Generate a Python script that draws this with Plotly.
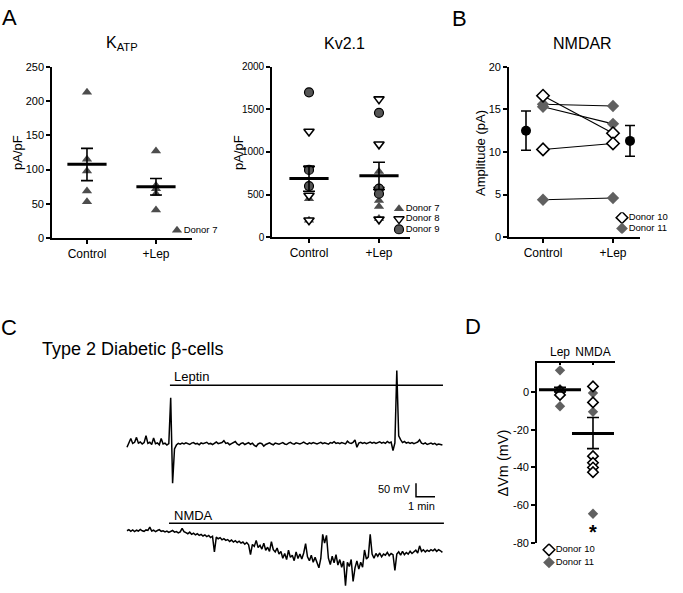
import plotly.graph_objects as go

W, H = 683, 593
FONT = "Liberation Sans, Arial, sans-serif"

# ---------------- data ----------------
CATS_A = ["Control", "+Lep"]

KATP_CONTROL_D7 = [213, 115, 98, 69, 53]
KATP_LEP_D7 = [127, 77, 72, 65, 41]
KATP_MEAN = [108, 75]
KATP_SEM_HI = [131, 87]
KATP_SEM_LO = [84, 63]

KV_CONTROL_D7 = [450, 200]
KV_CONTROL_D8 = [1240, 810, 490, 200]
KV_CONTROL_D9 = [1700, 790, 600]
KV_LEP_D7 = [770, 430, 360, 220]
KV_LEP_D8 = [1620, 1090, 560, 210]
KV_LEP_D9 = [1460, 570, 510]
KV_MEAN = [690, 720]
KV_SEM_HI = [830, 880]
KV_SEM_LO = [540, 560]

NMDAR_D10_CONTROL = [16.6, 10.3]
NMDAR_D10_LEP = [12.2, 11.0]
NMDAR_D11_CONTROL = [15.6, 15.3, 4.4]
NMDAR_D11_LEP = [15.4, 13.3, 4.6]
NMDAR_MEAN = [12.5, 11.3]
NMDAR_SEM_HI = [14.8, 13.1]
NMDAR_SEM_LO = [10.2, 9.5]

D_CATS = ["Lep", "NMDA"]
D_LEP_D10 = [0.5, -1.5]
D_LEP_D11 = [11.5, 1.5, -1.0, -7.5]
D_NMDA_D10 = [3, -5.5, -34, -37.5, -40, -42.5]
D_NMDA_D11 = [3, -0.5, -10.5, -64.5]
D_MEAN = [1.2, -22]
D_SEM_HI = [2.5, -13.5]
D_SEM_LO = [0.0, -30]
D_TICKS = [0, -20, -40, -60, -80]

# membrane potential recordings (mV, relative to start), sampled every 0.1 min
TRACE_DT_MIN = 0.1
LEPTIN_TRACE_MV = [
    -12, 4, 20, 2, 6, 24, 3, 7, 0, 5, 30,
    2, 6, -2, 22, 1, 4, -3, 20, 0, 3,
    -4, 1, 168, -143, -18, -4, 2, -1, 3, 0,
    4, 1, -2, 3, 5, 0, 2, -3, 4, 1,
    3, 6, 0, 2, -2, 4, 7, 1, 3, 5,
    12, 2, 4, -3, 1, 5, 9, 0, -4, 2,
    4, -2, 1, 5, -1, 3, -5, -9, 0, 3,
    1, -8, -2, 2, 4, 0, -3, 3, 1, -1,
    2, 5, 0, -2, 3, 6, 1, -1, 4, 2,
    0, 3, 7, 2, -1, 4, 1, 5, 2, 0,
    3, 6, 1, 4, 2, -1, 5, 3, 8, 2,
    4, 1, 5, 3, 0, 10, 4, 2, 6, 15,
    -12, 3, 6, 2, 5, 1, 4, 7, 3, 6,
    2, 5, 8, 3, 6, 2, 9, 4, 7, -24,
    4, 268, 30, 16, 5, 9, 3, 6, 2, 5,
    1, 4, 7, 15, 3, 0, 4, -2, 1, 3,
    -1, 2, -3, 0, -2, -4,
]
NMDA_TRACE_MV = [
    5, 9, 3, 8, 2, 7, 4, 10, 5, 3, 8,
    6, 18, 4, 7, 2, 6, 9, 3, 5, 1,
    4, -1, 3, 6, 0, 2, -3, 1, 14, 2,
    -2, -6, 0, -8, -4, -10, -6, -12, -8, -14,
    -10, -16, -12, -20, -15, -72, -18, -24, -20, -28,
    -24, -30, -27, -34, -29, -36, -31, -38, -33, -40,
    -36, -44, -38, -46, -82, -45, -52, -30, -56, -48,
    -62, -40, -66, -55, -70, -35, -64, -72, -58, -80,
    -70, -95, -78, -100, -66, -92, -84, -104, -72, -96,
    -80, -98, -76, -42, -90, -104, -84, -110, -92, -115,
    -130, -96, -8, -40, -12, -95, -118, -88, -112, -82,
    -120, -100, -128, -105, -195, -110, -125, -100, -180, -130,
    -105, -135, -110, -128, -65, -98, -90, -8, -80, -95,
    -78, -88, -76, -90, -80, -84, -74, -86, -78, -82,
    -140, -80, -72, -84, -70, -82, -74, -80, -70, -78,
    -72, -66, -76, -50, -70, -64, -72, -66, -70, -64,
    -68, -62, -70, -64, -68, -74,
]
LEPTIN_APPLIED_MIN = [2.26, 16.63]
NMDA_APPLIED_MIN = [2.21, 16.68]
SCALE_MV = 50
SCALE_MIN = 1

# ---------------- helpers ----------------
def dom_x(a, b):
    return [a / W, b / W]

def dom_y(top, bottom):
    return [1 - bottom / H, 1 - top / H]

def px(x):
    return x / W

def py(y):
    return 1 - y / H

GRAY = "#4d4d4d"
DGRAY = "#606060"

fig = go.Figure()

def pos(cat_index, values):
    return [cat_index + 1] * len(values)

def pts(xa, ya, x, y, symbol, fill, line_w=0, line_c="black", size=9):
    fig.add_trace(go.Scatter(
        x=x, y=y, xaxis=xa, yaxis=ya, mode="markers", showlegend=False,
        marker=dict(symbol=symbol, size=size, color=fill,
                    line=dict(width=line_w, color=line_c)),
        hoverinfo="skip"))

def mean_bar(xa, ya, x, mean, hi, lo, width_px, thick=3):
    fig.add_trace(go.Scatter(
        x=x, y=mean, xaxis=xa, yaxis=ya, mode="markers", showlegend=False,
        marker=dict(symbol="line-ew", size=width_px, color="black",
                    line=dict(width=thick, color="black")),
        error_y=dict(type="data", symmetric=False,
                     array=[h - m for h, m in zip(hi, mean)],
                     arrayminus=[m - l for m, l in zip(mean, lo)],
                     width=6, thickness=1.6, color="black"),
        hoverinfo="skip"))

# ---------------- A: KATP ----------------
pts("x", "y", pos(0, KATP_CONTROL_D7), KATP_CONTROL_D7, "triangle-up", GRAY)
pts("x", "y", pos(1, KATP_LEP_D7), KATP_LEP_D7, "triangle-up", GRAY)
mean_bar("x", "y", [1, 2], KATP_MEAN, KATP_SEM_HI, KATP_SEM_LO, 28)

# ---------------- A: Kv2.1 ----------------
pts("x2", "y2", pos(0, KV_CONTROL_D7), KV_CONTROL_D7, "triangle-up", GRAY)
pts("x2", "y2", pos(1, KV_LEP_D7), KV_LEP_D7, "triangle-up", GRAY)
pts("x2", "y2", pos(0, KV_CONTROL_D8), KV_CONTROL_D8, "triangle-down", "white", 1.6)
pts("x2", "y2", pos(1, KV_LEP_D8), KV_LEP_D8, "triangle-down", "white", 1.6)
pts("x2", "y2", pos(0, KV_CONTROL_D9), KV_CONTROL_D9, "circle", "#555555", 1.2)
pts("x2", "y2", pos(1, KV_LEP_D9), KV_LEP_D9, "circle", "#555555", 1.2)
mean_bar("x2", "y2", [1, 2], KV_MEAN, KV_SEM_HI, KV_SEM_LO, 28)

# ---------------- B: NMDAR ----------------
for c, l in zip(NMDAR_D10_CONTROL + NMDAR_D11_CONTROL, NMDAR_D10_LEP + NMDAR_D11_LEP):
    fig.add_trace(go.Scatter(x=[1, 2], y=[c, l], xaxis="x3", yaxis="y3",
                             mode="lines", line=dict(color="black", width=1.1),
                             showlegend=False, hoverinfo="skip"))
pts("x3", "y3", pos(0, NMDAR_D11_CONTROL), NMDAR_D11_CONTROL, "diamond", DGRAY, 0, size=9.5)
pts("x3", "y3", pos(1, NMDAR_D11_LEP), NMDAR_D11_LEP, "diamond", DGRAY, 0, size=9.5)
pts("x3", "y3", pos(0, NMDAR_D10_CONTROL), NMDAR_D10_CONTROL, "diamond", "white", 1.6, size=9.5)
pts("x3", "y3", pos(1, NMDAR_D10_LEP), NMDAR_D10_LEP, "diamond", "white", 1.6, size=9.5)
MEAN_OFFSET = 0.243
fig.add_trace(go.Scatter(
    x=[1 - MEAN_OFFSET, 2 + MEAN_OFFSET], y=NMDAR_MEAN, xaxis="x3", yaxis="y3",
    mode="markers", showlegend=False, hoverinfo="skip",
    marker=dict(symbol="circle", size=10, color="black"),
    error_y=dict(type="data", symmetric=False,
                 array=[h - m for h, m in zip(NMDAR_SEM_HI, NMDAR_MEAN)],
                 arrayminus=[m - l for m, l in zip(NMDAR_MEAN, NMDAR_SEM_LO)],
                 width=5, thickness=1.6, color="black")))

# ---------------- C: traces ----------------
C_X0, C_PX_PER_MIN = 127, 19.0
C_Y0, C_PX_PER_MV = 447, 0.28

def ct(xp):
    return (xp - C_X0) / C_PX_PER_MIN

def cv(yp):
    return (C_Y0 - yp) / C_PX_PER_MV

NMDA_OFFSET = cv(537)
t_lep = [i * TRACE_DT_MIN for i in range(len(LEPTIN_TRACE_MV))]
t_nmda = [i * TRACE_DT_MIN for i in range(len(NMDA_TRACE_MV))]
fig.add_trace(go.Scatter(x=t_lep, y=LEPTIN_TRACE_MV, xaxis="x4", yaxis="y4",
                         mode="lines", line=dict(color="black", width=1.5),
                         showlegend=False, hoverinfo="skip"))
fig.add_trace(go.Scatter(x=t_nmda, y=[v + NMDA_OFFSET for v in NMDA_TRACE_MV],
                         xaxis="x4", yaxis="y4", mode="lines",
                         line=dict(color="black", width=1.5),
                         showlegend=False, hoverinfo="skip"))
# application bars
fig.add_trace(go.Scatter(x=LEPTIN_APPLIED_MIN, y=[cv(387)] * 2, xaxis="x4", yaxis="y4",
                         mode="lines", line=dict(color="black", width=1.5),
                         showlegend=False, hoverinfo="skip"))
fig.add_trace(go.Scatter(x=NMDA_APPLIED_MIN, y=[cv(528)] * 2, xaxis="x4", yaxis="y4",
                         mode="lines", line=dict(color="black", width=1.5),
                         showlegend=False, hoverinfo="skip"))
# scale bar
sb_t, sb_v = ct(416), cv(501)
fig.add_trace(go.Scatter(x=[sb_t, sb_t, sb_t + SCALE_MIN], y=[sb_v + SCALE_MV, sb_v, sb_v],
                         xaxis="x4", yaxis="y4", mode="lines",
                         line=dict(color="black", width=1.5),
                         showlegend=False, hoverinfo="skip"))

# ---------------- D ----------------
pts("x5", "y5", pos(0, D_LEP_D11), D_LEP_D11, "diamond", DGRAY, 0, size=8)
pts("x5", "y5", pos(1, D_NMDA_D11), D_NMDA_D11, "diamond", DGRAY, 0, size=8)
pts("x5", "y5", pos(0, D_LEP_D10), D_LEP_D10, "diamond", "white", 1.6, size=8)
pts("x5", "y5", pos(1, D_NMDA_D10), D_NMDA_D10, "diamond", "white", 1.6, size=8)
mean_bar("x5", "y5", [1, 2], D_MEAN, D_SEM_HI, D_SEM_LO, 30)

# ---------------- legends (drawn as small categorical axes) ----------------
def legend(xa, ya, names, symbols, fills, lws, sizes):
    for n, s, f, lw, sz in zip(names, symbols, fills, lws, sizes):
        fig.add_trace(go.Scatter(
            x=[0], y=[n], xaxis=xa, yaxis=ya, mode="markers+text",
            text=[n], textposition="middle right",
            textfont=dict(family=FONT, size=9.5, color="black"),
            marker=dict(symbol=s, size=sz, color=f, line=dict(width=lw, color="black")),
            showlegend=False, hoverinfo="skip"))

LEG_A1 = ["Donor 7"]
LEG_A2 = ["Donor 7", "Donor 8", "Donor 9"]
LEG_BD = ["Donor 10", "Donor 11"]
legend("x6", "y6", LEG_A1, ["triangle-up"], [GRAY], [0], [9])
legend("x7", "y7", LEG_A2, ["triangle-up", "triangle-down", "circle"],
       [GRAY, "white", "#555555"], [0, 1.5, 1.2], [9, 9, 9])
legend("x8", "y8", LEG_BD, ["diamond", "diamond"], ["white", DGRAY], [1.5, 0], [9, 9])
legend("x9", "y9", LEG_BD, ["diamond", "diamond"], ["white", DGRAY], [1.5, 0], [9, 9])

# ---------------- layout ----------------
def axis_common(size=11):
    return dict(showline=True, linecolor="black", linewidth=1.6, ticks="outside",
                ticklen=4, tickwidth=1.5, tickcolor="black", showgrid=False,
                zeroline=False, fixedrange=True,
                tickfont=dict(family=FONT, size=size, color="black"))

def cat_x(domain, rng, anchor, labels, side="bottom"):
    d = axis_common(12)
    d.update(domain=domain, range=rng, anchor=anchor, tickmode="array",
             tickvals=[i + 1 for i in range(len(labels))], ticktext=labels, side=side)
    return d

def val_y(domain, rng, anchor, tickvals, size, ticktext=None):
    d = axis_common(size)
    d.update(domain=domain, range=rng, anchor=anchor, tickmode="array", tickvals=tickvals)
    if ticktext is not None:
        d.update(ticktext=ticktext)
    return d

def hidden(domain, rng, anchor, **kw):
    d = dict(domain=domain, range=rng, anchor=anchor, visible=False,
             showgrid=False, zeroline=False, fixedrange=True)
    d.update(kw)
    return d

def leg_axes(x_px, y0_px, spacing, names):
    n = len(names)
    xd = dom_x(x_px - 10, x_px + 60)
    yd = dom_y(y0_px - spacing / 2, y0_px + (n - 0.5) * spacing)
    return (hidden(xd, [-10, 60], None),
            hidden(yd, [n - 0.5, -0.5], None, type="category",
                   categoryorder="array", categoryarray=names))

layout = dict(
    width=W, height=H, margin=dict(l=0, r=0, t=0, b=0),
    paper_bgcolor="white", plot_bgcolor="rgba(0,0,0,0)",
    font=dict(family=FONT, color="black"), showlegend=False,
)

layout["xaxis"] = cat_x(dom_x(52, 192), [0.493, 2.522], "y", CATS_A)
layout["yaxis"] = val_y(dom_y(62, 237), [0, 250], "x", [0, 50, 100, 150, 200, 250], 11)
layout["xaxis2"] = cat_x(dom_x(272, 410), [0.4714, 2.443], "y2", CATS_A)
layout["yaxis2"] = val_y(dom_y(62, 236), [0, 2000], "x2", [0, 500, 1000, 1500, 2000], 10)
layout["xaxis3"] = cat_x(dom_x(509, 640), [0.514, 2.386], "y3", CATS_A)
layout["yaxis3"] = val_y(dom_y(62, 236), [0, 20], "x3", [0, 5, 10, 15, 20], 11)

layout["xaxis4"] = hidden(dom_x(100, 460), [ct(100), ct(460)], "y4")
layout["yaxis4"] = hidden(dom_y(360, 593), [cv(593), cv(360)], "x4")

xd5 = cat_x(dom_x(537, 615), [0.303, 2.667], "y5", D_CATS, side="top")
xd5.update(ticks="inside", ticklen=3)
layout["xaxis5"] = xd5
layout["yaxis5"] = val_y(dom_y(364, 548), [-80, 15.6], "x5", D_TICKS, 11,
                         [str(v) for v in D_TICKS])

for i, (xp, yp, sp, nm) in zip([6, 7, 8, 9], [(177, 229, 10.5, LEG_A1),
                                             (399, 207, 10.5, LEG_A2),
                                             (622, 216, 11, LEG_BD),
                                             (549, 555, 13, LEG_BD)]):
    xa, ya = leg_axes(xp, yp, sp, nm)
    xa["anchor"] = "y%d" % i
    ya["anchor"] = "x%d" % i
    layout["xaxis%d" % i] = xa
    layout["yaxis%d" % i] = ya

def ann(text, x, y, size, xanchor="center", yanchor="middle", angle=0, **kw):
    d = dict(text=text, x=px(x), y=py(y), xref="paper", yref="paper",
             xanchor=xanchor, yanchor=yanchor, showarrow=False, textangle=angle,
             font=dict(family=FONT, size=size, color="black"))
    d.update(kw)
    return d

annotations = [
    ann("A", 9, 12, 22), ann("B", 459, 13, 22), ann("C", 9, 328, 22), ann("D", 473, 327, 22),
    ann("K<sub>ATP</sub>", 122, 38, 16), ann("Kv2.1", 344, 38, 16), ann("NMDAR", 582, 38, 16),
    ann("pA/pF", 18, 150, 13, angle=-90), ann("pA/pF", 239, 150, 13, angle=-90),
    ann("Amplitude (pA)", 481, 150, 13, angle=-90),
    ann("\u0394Vm (mV)", 503, 467, 14.5, angle=-90),
    ann("Type 2 Diabetic \u03b2-cells", 40, 350, 18, xanchor="left"),
    ann("Leptin", 172, 378, 13, xanchor="left"),
    ann("NMDA", 172, 520, 13, xanchor="left"),
    ann("50 mV", 412, 493, 11, xanchor="right"),
    ann("1 min", 437, 510, 11, xanchor="right"),
    ann("<b>*</b>", 593, 537, 20),
]
layout["annotations"] = annotations

fig.update_layout(**layout)
fig.write_html("out.html", config={"displayModeBar": False},
               post_script="document.body.style.margin='0';document.body.style.overflow='hidden';")
